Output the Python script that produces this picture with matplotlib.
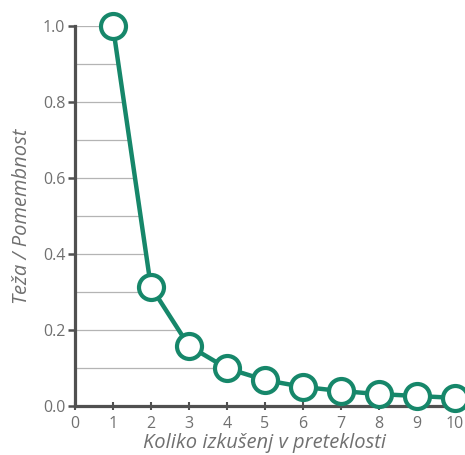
import numpy as np
import matplotlib
matplotlib.use("Agg")
import matplotlib.pyplot as plt

experiences = [1, 2, 3, 4, 5, 6, 7, 8, 9, 10]
weights = [1.0, 0.314, 0.158, 0.099, 0.068, 0.050, 0.039, 0.031, 0.026, 0.021]
x_ticks = [0, 1, 2, 3, 4, 5, 6, 7, 8, 9, 10]
y_ticks = [0.0, 0.2, 0.4, 0.6, 0.8, 1.0]
grid_levels = [0.1, 0.2, 0.3, 0.4, 0.5, 0.6, 0.7, 0.8, 0.9, 1.0]

plt.rcParams['font.family'] = ['Open Sans', 'DejaVu Sans']

fig = plt.figure(figsize=(4.65, 4.55), dpi=100)
ax = fig.add_axes([0.161, 0.108, 0.817, 0.835])

green = '#16876a'
gray = '#707070'

# horizontal gridlines that stop at the curve
xs = np.array(experiences, dtype=float)
ys = np.array(weights, dtype=float)
for g in grid_levels:
    x_end = np.interp(g, ys[::-1], xs[::-1])
    ax.hlines(g, 0, x_end, color='#b4b4b4', linewidth=0.9, zorder=1)

ax.plot(experiences, weights, color=green, linewidth=3.2, marker='o',
        markersize=18, markerfacecolor='white', markeredgecolor=green,
        markeredgewidth=3.0, zorder=3, clip_on=False)

ax.set_xlim(0, 10)
ax.set_ylim(0, 1.0)
ax.set_xticks(x_ticks)
ax.set_yticks(y_ticks)
ax.set_yticklabels([f"{v:.1f}" for v in y_ticks])

for s in ['top', 'right']:
    ax.spines[s].set_visible(False)
for s in ['left', 'bottom']:
    ax.spines[s].set_color('#505050')
    ax.spines[s].set_linewidth(2.3)

ax.tick_params(axis='y', direction='out', length=5, width=1.8, color='#505050',
               labelcolor=gray, labelsize=11.5, pad=2)
ax.tick_params(axis='x', direction='inout', length=6, width=1.5, color='#505050',
               labelcolor=gray, labelsize=11.5, pad=4)

ax.set_xlabel('Koliko izkušenj v preteklosti', style='italic', color=gray,
              fontsize=14.5, labelpad=1)
ax.set_ylabel('Teža / Pomembnost', style='italic', color=gray,
              fontsize=14.5, labelpad=8)

fig.savefig('out.png', dpi=100)
